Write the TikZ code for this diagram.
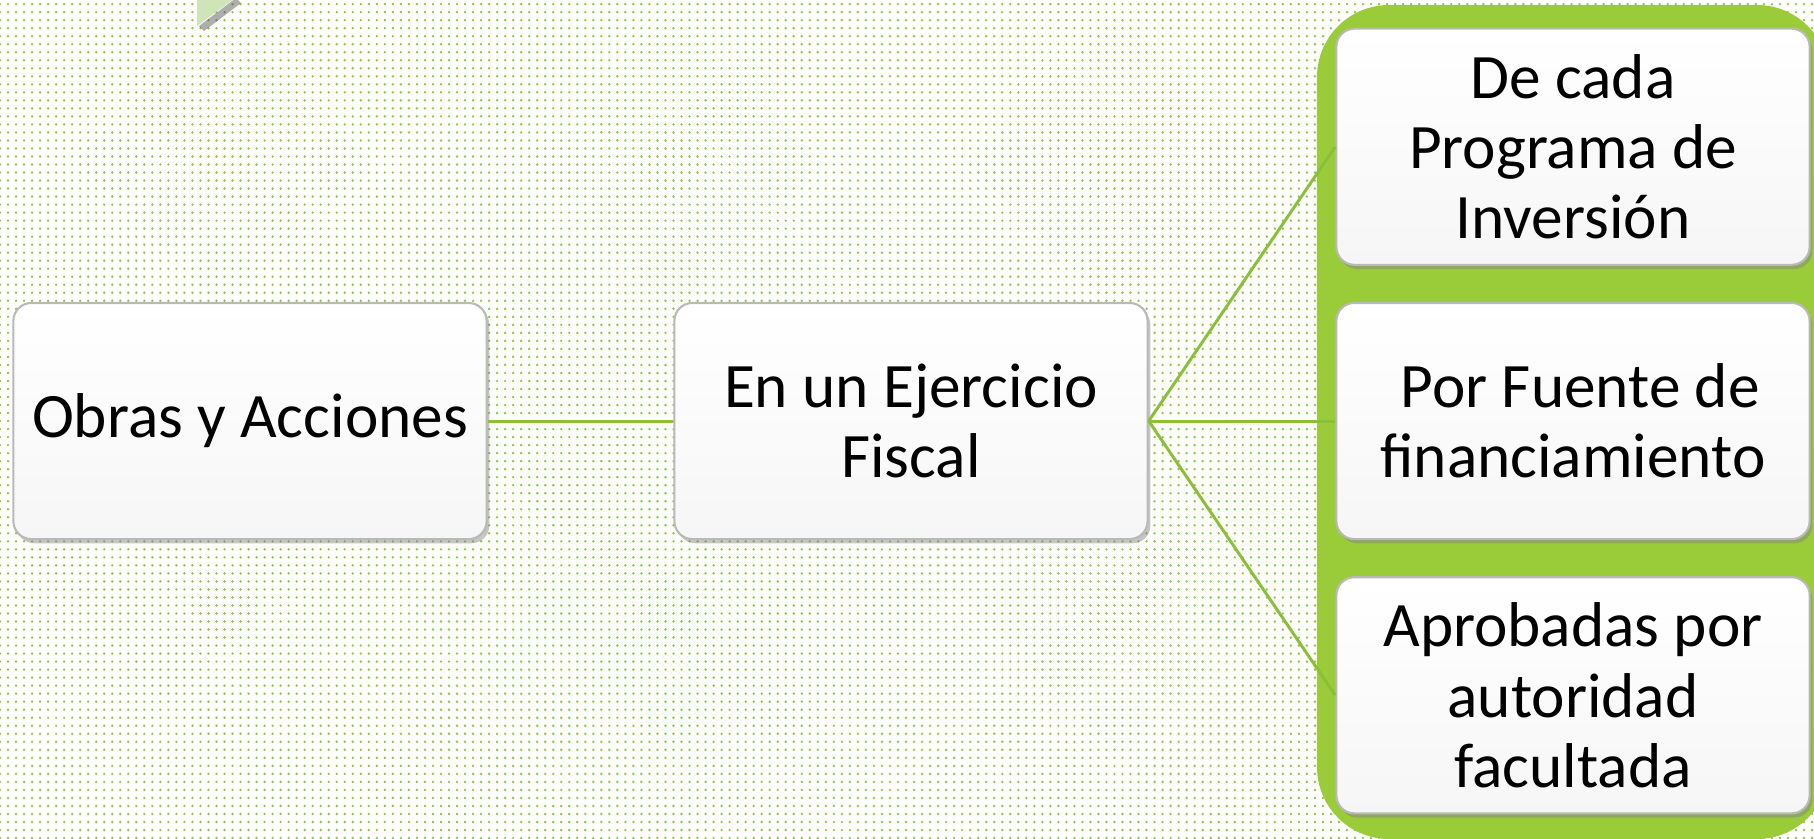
\documentclass[tikz,border=0pt]{standalone}
\usepackage{fontspec}
\setmainfont{Carlito}
\usetikzlibrary{positioning, shadows, patterns.meta}
\definecolor{panelgreen}{RGB}{154,204,58}
\definecolor{linkgreen}{RGB}{138,192,56}
\definecolor{dotgreen}{RGB}{141,198,63}
\definecolor{foldgreen}{RGB}{206,229,184}

\begin{document}
\begin{tikzpicture}[x=0.01cm, y=-0.01cm,
    card/.style={draw=gray!55, line width=0.6pt, rounded corners=0.18cm, top color=white, bottom color=gray!7,
      minimum width=4.73cm, minimum height=2.36cm, align=center, font=\fontsize{18}{20}\selectfont,
      drop shadow={shadow xshift=0.8pt, shadow yshift=-1.2pt, opacity=0.45}},
    link/.style={linkgreen, line width=0.85pt}]
  \clip (0,0) rectangle (1814,838);
  \fill[white] (0,0) rectangle (1814,838);
  \fill[pattern={Dots[distance=2.28pt, radius=0.38pt]}, pattern color=dotgreen] (0,0) rectangle (1814,838);

  \fill[black!70, opacity=0.45] (236,-2) -- (199,26) -- (204,31) -- (241,3) -- cycle;
  \fill[foldgreen] (197,-2) -- (235,-2) -- (197,26) -- cycle;

  \fill[panelgreen, rounded corners=0.72cm] (1317,5) rectangle (1829,839);

  \node[card] (obras) at (250, 421) {Obras y Acciones};
  \node[card] (ejercicio) at (911, 421) {En un Ejercicio\\Fiscal};
  \node[card] (fuente) at (1573, 421) {\ Por Fuente de\\financiamiento};
  \node[card, above=0.36cm of fuente] (programa) {De cada\\Programa de\\Inversión};
  \node[card, below=0.36cm of fuente] (aprobadas) {Aprobadas por\\autoridad\\facultada};

  \draw[link] (obras) -- (ejercicio);
  \draw[link] (ejercicio.east) -- (programa.west);
  \draw[link] (ejercicio.east) -- (fuente.west);
  \draw[link] (ejercicio.east) -- (aprobadas.west);
\end{tikzpicture}
\end{document}
